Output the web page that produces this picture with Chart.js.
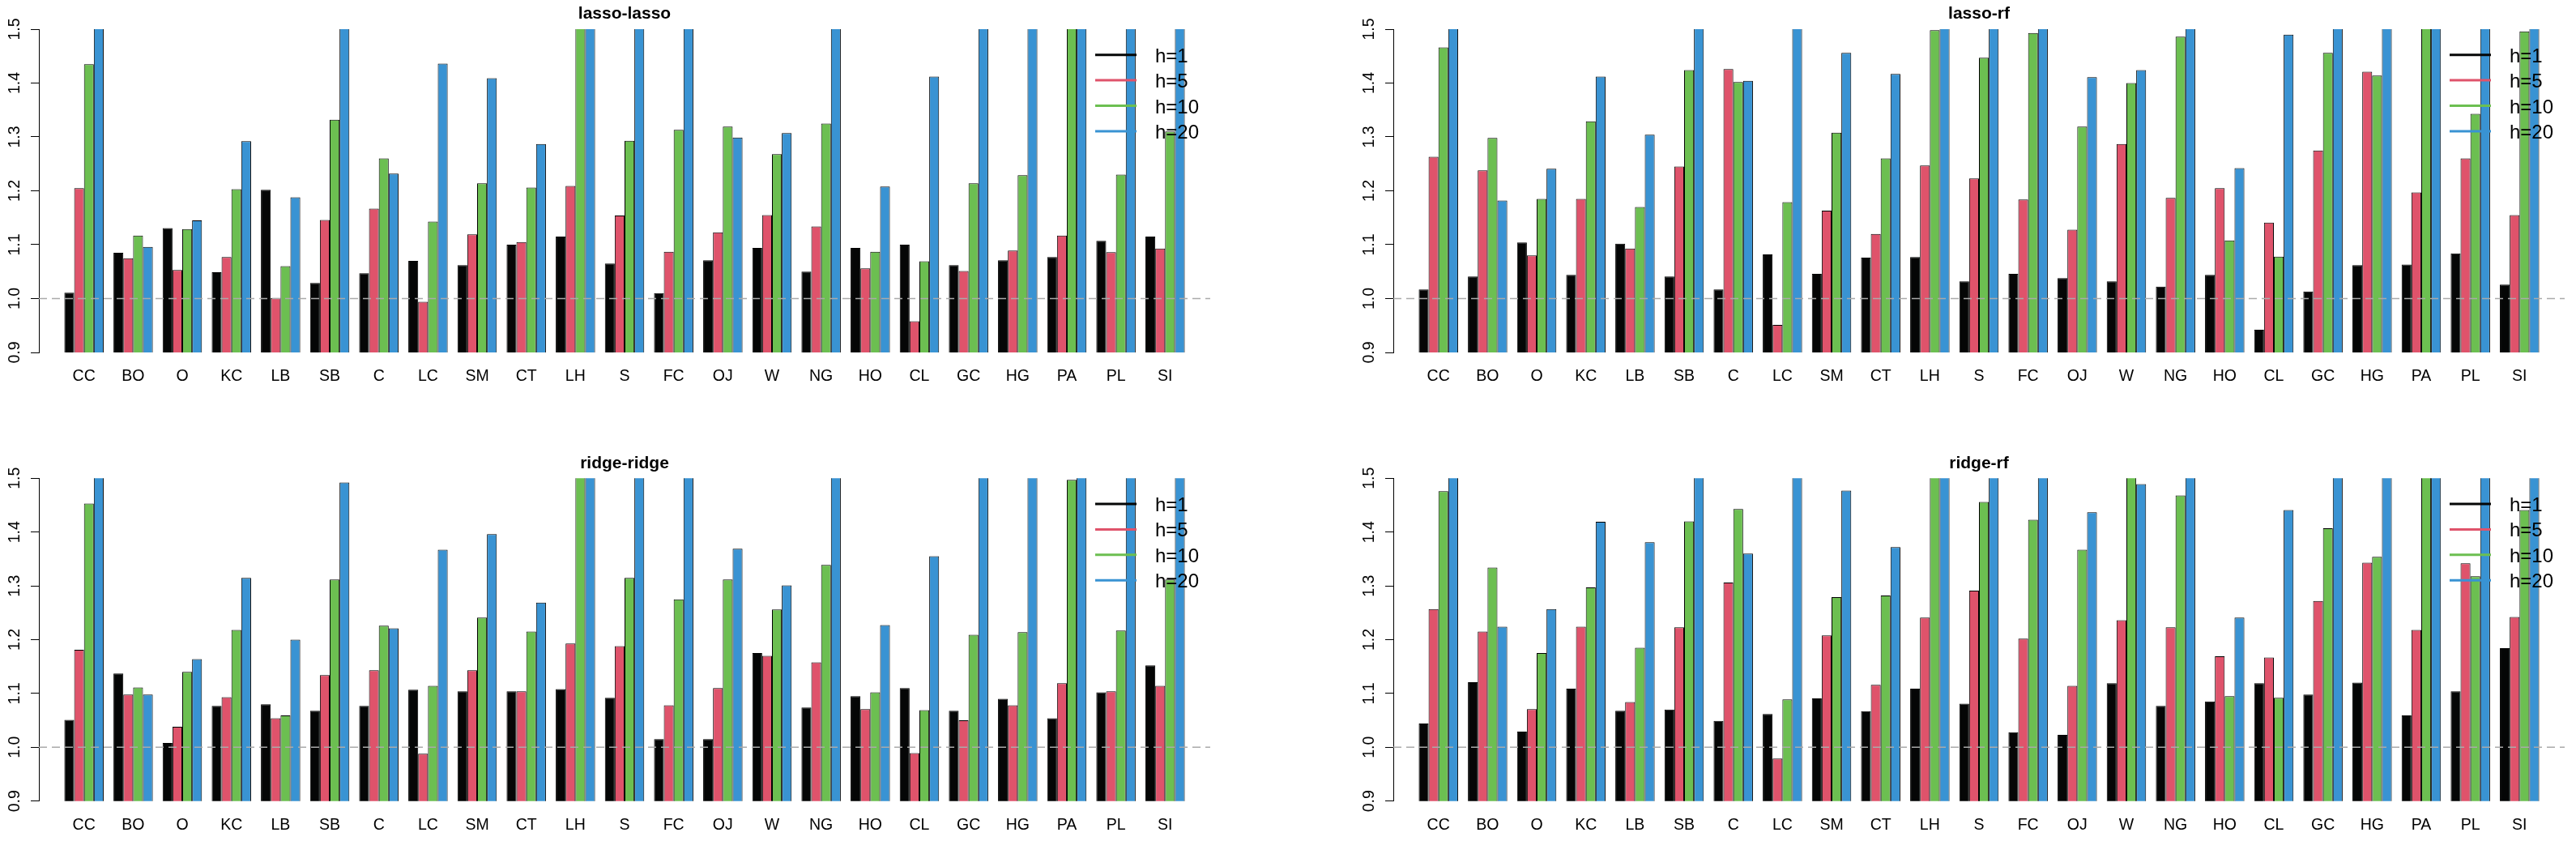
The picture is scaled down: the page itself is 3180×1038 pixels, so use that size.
<!DOCTYPE html>
<html>
<head>
<meta charset="utf-8">
<title>forecast ratios</title>
<script src="https://cdn.jsdelivr.net/npm/chart.js@4.4.1/dist/chart.umd.min.js"></script>
<style>
  html, body { margin: 0; padding: 0; background: #fff; }
  #wrap { position: relative; width: 3180px; height: 1038px; overflow: hidden; }
  canvas { position: absolute; }
</style>
</head>
<body>
<div id="wrap">
  <canvas id="p1" width="1590" height="519" style="left:0px;top:0px"></canvas>
  <canvas id="p2" width="1590" height="519" style="left:1590px;top:0px"></canvas>
  <canvas id="p3" width="1590" height="519" style="left:0px;top:519px"></canvas>
  <canvas id="p4" width="1590" height="519" style="left:1590px;top:519px"></canvas>
</div>
<script>
const categories = ['CC', 'BO', 'O', 'KC', 'LB', 'SB', 'C', 'LC', 'SM', 'CT', 'LH', 'S',
                    'FC', 'OJ', 'W', 'NG', 'HO', 'CL', 'GC', 'HG', 'PA', 'PL', 'SI'];
const horizons = ['h=1', 'h=5', 'h=10', 'h=20'];
const yTicks = [0.9, 1.0, 1.1, 1.2, 1.3, 1.4, 1.5];
const yTickLabels = ['0.9', '1.0', '1.1', '1.2', '1.3', '1.4', '1.5'];
const refLine = 1.0;

// lasso-lasso
const lassoLassoH1  = [1.011, 1.085, 1.131, 1.049, 1.202, 1.029, 1.047, 1.070, 1.062, 1.100, 1.115, 1.065, 1.010, 1.071, 1.094, 1.050, 1.094, 1.100, 1.062, 1.071, 1.077, 1.107, 1.115];
const lassoLassoH5  = [1.205, 1.075, 1.053, 1.077, 1.001, 1.146, 1.167, 0.994, 1.119, 1.105, 1.209, 1.154, 1.087, 1.123, 1.155, 1.134, 1.056, 0.958, 1.051, 1.089, 1.117, 1.086, 1.093];
const lassoLassoH10 = [1.435, 1.117, 1.129, 1.203, 1.060, 1.332, 1.260, 1.143, 1.214, 1.206, 1.600, 1.293, 1.313, 1.319, 1.268, 1.325, 1.087, 1.069, 1.214, 1.229, 1.600, 1.230, 1.310];
const lassoLassoH20 = [1.600, 1.096, 1.145, 1.292, 1.188, 1.600, 1.232, 1.436, 1.409, 1.287, 1.600, 1.600, 1.600, 1.299, 1.307, 1.600, 1.208, 1.412, 1.600, 1.600, 1.600, 1.600, 1.600];

// lasso-rf
const lassoRfH1  = [1.017, 1.041, 1.104, 1.044, 1.102, 1.041, 1.017, 1.082, 1.046, 1.076, 1.077, 1.032, 1.046, 1.038, 1.032, 1.022, 1.044, 0.942, 1.013, 1.062, 1.063, 1.084, 1.026];
const lassoRfH5  = [1.263, 1.238, 1.080, 1.185, 1.093, 1.245, 1.426, 0.951, 1.163, 1.120, 1.247, 1.223, 1.184, 1.128, 1.287, 1.187, 1.205, 1.141, 1.275, 1.421, 1.197, 1.260, 1.155];
const lassoRfH10 = [1.466, 1.298, 1.185, 1.329, 1.170, 1.424, 1.402, 1.179, 1.308, 1.260, 1.498, 1.447, 1.493, 1.319, 1.400, 1.486, 1.108, 1.078, 1.456, 1.414, 1.600, 1.343, 1.496];
const lassoRfH20 = [1.600, 1.182, 1.241, 1.412, 1.304, 1.600, 1.404, 1.600, 1.456, 1.417, 1.600, 1.600, 1.600, 1.411, 1.424, 1.600, 1.242, 1.490, 1.600, 1.600, 1.600, 1.600, 1.600];

// ridge-ridge
const ridgeRidgeH1  = [1.051, 1.137, 1.008, 1.077, 1.080, 1.068, 1.077, 1.107, 1.104, 1.104, 1.108, 1.092, 1.015, 1.015, 1.175, 1.074, 1.095, 1.110, 1.068, 1.090, 1.054, 1.102, 1.152];
const ridgeRidgeH5  = [1.181, 1.098, 1.038, 1.093, 1.054, 1.134, 1.143, 0.988, 1.143, 1.104, 1.193, 1.188, 1.078, 1.110, 1.170, 1.158, 1.071, 0.989, 1.050, 1.078, 1.119, 1.104, 1.114];
const ridgeRidgeH10 = [1.453, 1.111, 1.140, 1.218, 1.059, 1.312, 1.226, 1.114, 1.241, 1.215, 1.600, 1.315, 1.275, 1.312, 1.256, 1.339, 1.102, 1.069, 1.209, 1.214, 1.497, 1.217, 1.312];
const ridgeRidgeH20 = [1.600, 1.098, 1.164, 1.315, 1.200, 1.492, 1.221, 1.367, 1.396, 1.269, 1.600, 1.600, 1.600, 1.369, 1.301, 1.600, 1.227, 1.355, 1.600, 1.600, 1.600, 1.600, 1.600];

// ridge-rf
const ridgeRfH1  = [1.044, 1.121, 1.029, 1.109, 1.068, 1.070, 1.049, 1.062, 1.091, 1.067, 1.109, 1.081, 1.028, 1.023, 1.119, 1.077, 1.085, 1.119, 1.098, 1.120, 1.059, 1.104, 1.184];
const ridgeRfH5  = [1.257, 1.215, 1.071, 1.224, 1.084, 1.223, 1.306, 0.979, 1.208, 1.116, 1.241, 1.291, 1.202, 1.114, 1.236, 1.223, 1.169, 1.167, 1.272, 1.343, 1.218, 1.342, 1.242];
const ridgeRfH10 = [1.476, 1.334, 1.175, 1.297, 1.185, 1.420, 1.443, 1.089, 1.279, 1.282, 1.600, 1.456, 1.423, 1.367, 1.600, 1.468, 1.095, 1.092, 1.407, 1.354, 1.600, 1.318, 1.441];
const ridgeRfH20 = [1.600, 1.224, 1.257, 1.419, 1.381, 1.600, 1.360, 1.600, 1.477, 1.372, 1.600, 1.600, 1.600, 1.437, 1.489, 1.600, 1.241, 1.441, 1.600, 1.600, 1.600, 1.600, 1.600];

const colors = ['#050606', '#df536b', '#6cbf51', '#3993d3'];
const fontFamily = '"Liberation Sans", Arial, Helvetica, sans-serif';

// title, rotated y labels, dashed reference line and the line legend
const decor = {
  id: 'decor',
  afterDatasetsDraw(chart) {
    const { ctx, chartArea: a, scales: { y } } = chart;
    const py = y.getPixelForValue(refLine);
    ctx.save();
    ctx.strokeStyle = '#aaaaaa';
    ctx.lineWidth = 1.5;
    ctx.setLineDash([10, 6]);
    ctx.beginPath();
    ctx.moveTo(a.left, py);
    ctx.lineTo(a.right, py);
    ctx.stroke();
    ctx.restore();
  },
  afterDraw(chart, args, opts) {
    const { ctx, chartArea: a, scales: { y } } = chart;
    ctx.save();
    ctx.fillStyle = '#000';

    // panel title
    ctx.font = 'bold 21px ' + fontFamily;
    ctx.textAlign = 'center';
    ctx.textBaseline = 'alphabetic';
    ctx.fillText(opts.title, (a.left + a.right) / 2, a.top - 12.7);

    // y tick labels, parallel to the axis
    ctx.font = '19.5px ' + fontFamily;
    y.ticks.forEach((t, i) => {
      ctx.save();
      ctx.translate(a.left - 24, y.getPixelForValue(t.value));
      ctx.rotate(-Math.PI / 2);
      ctx.fillText(yTickLabels[i], 0, 0);
      ctx.restore();
    });

    // legend
    ctx.font = '24px ' + fontFamily;
    ctx.textAlign = 'left';
    chart.data.datasets.forEach((ds, i) => {
      const ly = a.top + 31.7 + i * 31.4;
      ctx.strokeStyle = ds.backgroundColor;
      ctx.lineWidth = 3;
      ctx.beginPath();
      ctx.moveTo(a.right - 142, ly);
      ctx.lineTo(a.right - 91, ly);
      ctx.stroke();
      ctx.fillText(ds.label, a.right - 68, ly + 9);
    });
    ctx.restore();
  }
};

function makePanel(id, title, series, pad) {
  new Chart(document.getElementById(id), {
    type: 'bar',
    data: {
      datasets: series.map((vals, k) => ({
        label: horizons[k],
        data: vals.map((v, i) => ({ x: i, y: v })),
        backgroundColor: colors[k],
        borderColor: '#000',
        borderWidth: 1,
        barPercentage: 1.0,
        categoryPercentage: 0.8,
        clip: 0
      }))
    },
    options: {
      responsive: false,
      animation: false,
      devicePixelRatio: 1,
      layout: { padding: pad },
      plugins: {
        legend: { display: false },
        tooltip: { enabled: false },
        decor: { title: title }
      },
      scales: {
        x: {
          type: 'linear',
          min: -0.4,
          max: categories.length - 0.6,
          afterBuildTicks: s => { s.ticks = categories.map((c, i) => ({ value: i })); },
          afterFit: s => { s.height = 40; },
          ticks: {
            callback: v => categories[v],
            autoSkip: false,
            maxRotation: 0,
            padding: 18,
            color: '#000',
            font: { family: fontFamily, size: 19.5 }
          },
          grid: { display: false, drawTicks: false },
          border: { display: false }
        },
        y: {
          min: 0.9,
          max: 1.5,
          afterBuildTicks: s => { s.ticks = yTicks.map(v => ({ value: v })); },
          afterFit: s => { s.width = 10; },
          ticks: { display: false },
          grid: { drawOnChartArea: false, drawTicks: true, tickLength: 10, color: '#000', lineWidth: 1 },
          border: { display: true, color: '#000', width: 1 }
        }
      }
    },
    plugins: [decor]
  });
}

makePanel('p1', 'lasso-lasso', [lassoLassoH1, lassoLassoH5, lassoLassoH10, lassoLassoH20],
  { left: 38, top: 36, right: 96, bottom: 44 });
makePanel('p2', 'lasso-rf', [lassoRfH1, lassoRfH5, lassoRfH10, lassoRfH20],
  { left: 120, top: 36, right: 14, bottom: 44 });
makePanel('p3', 'ridge-ridge', [ridgeRidgeH1, ridgeRidgeH5, ridgeRidgeH10, ridgeRidgeH20],
  { left: 38, top: 71.3, right: 96, bottom: 9.3 });
makePanel('p4', 'ridge-rf', [ridgeRfH1, ridgeRfH5, ridgeRfH10, ridgeRfH20],
  { left: 120, top: 71.3, right: 14, bottom: 9.3 });
</script>
</body>
</html>
